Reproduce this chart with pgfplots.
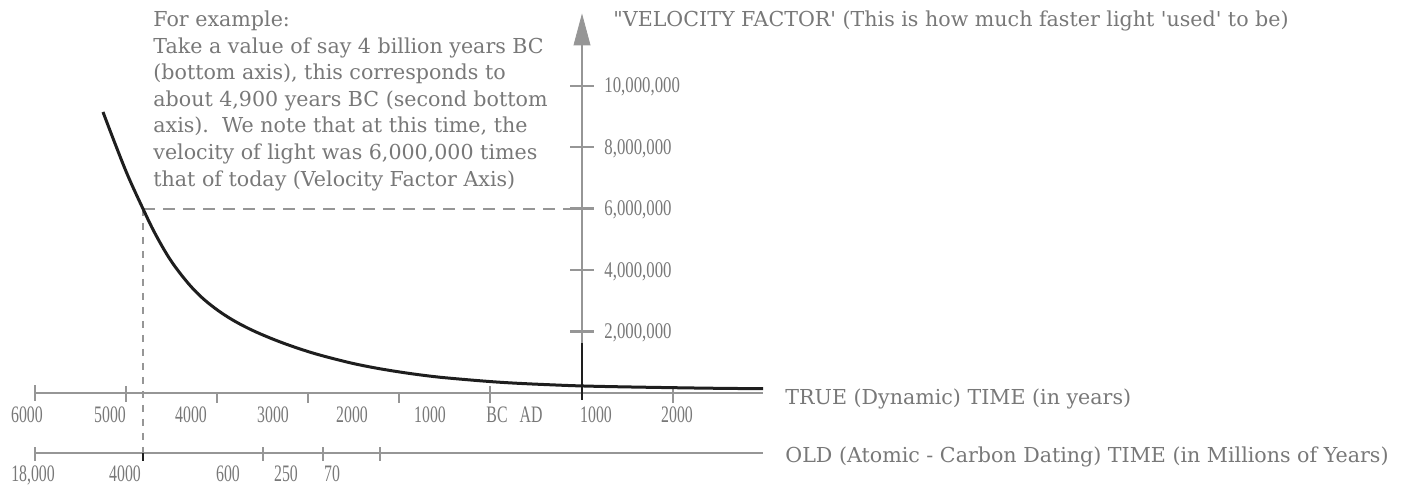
\documentclass[border=0pt]{standalone}
\usepackage{pgfplots}
\pgfplotsset{compat=1.18}
\usepackage{fontspec}
\setmainfont{DejaVu Serif}
\newfontfamily\tickfont[FakeStretch=0.75]{Liberation Serif}
\newfontfamily\tickfontb[FakeStretch=0.67]{Liberation Serif}
\definecolor{txt}{RGB}{120,120,120}
\definecolor{axg}{RGB}{150,150,150}
\definecolor{crv}{RGB}{30,30,30}
\newcommand{\bodyfont}{\fontsize{10.3}{12}\selectfont}
\newcommand{\tfont}{\tickfontb\fontsize{11.8}{13}\selectfont}
\newcommand{\yfont}{\tickfont\fontsize{11.2}{13}\selectfont}
\tikzset{
  tl/.style={anchor=base, inner sep=0pt, font=\tfont, text=txt},
  yl/.style={anchor=base west, inner sep=0pt, font=\yfont, text=txt},
  bl/.style={anchor=base west, inner sep=0pt, font=\bodyfont, text=txt},
}
\begin{document}
\begin{tikzpicture}
\begin{axis}[
  scale only axis, width=703pt, height=243.5pt,
  xmin=0, xmax=1406, ymin=-3.062, ymax=12.801,
  hide axis, clip=false,
]
% bounding box
\addplot[draw=none] coordinates {(0,-3.062) (1406,12.801)};

% TRUE time axis (y = 0)
\addplot[axg, line width=1.2pt] coordinates {(35,0) (763,0)};
% OLD time axis
\addplot[axg, line width=1.1pt] coordinates {(35,-1.954) (763,-1.954)};

% ticks on TRUE axis
\addplot[axg, line width=1pt] coordinates {(35,0.26) (35,-0.26)};
\addplot[axg, line width=1pt] coordinates {(126,0.23) (126,-0.29)};
\addplot[axg, line width=1pt] coordinates {(217,0.03) (217,-0.32)};
\addplot[axg, line width=1pt] coordinates {(308,0.03) (308,-0.32)};
\addplot[axg, line width=1pt] coordinates {(399,0.03) (399,-0.32)};
\addplot[axg, line width=1pt] coordinates {(490,0.23) (490,-0.32)};
\addplot[axg, line width=1.2pt] coordinates {(673,0.23) (673,-0.32)};

% ticks on OLD axis
\addplot[axg, line width=1pt] coordinates {(35,-1.76) (35,-2.21)};
\addplot[crv, line width=1.3pt] coordinates {(143,-1.76) (143,-2.21)};
\addplot[axg, line width=1pt] coordinates {(263,-1.76) (263,-2.21)};
\addplot[axg, line width=1pt] coordinates {(323,-1.76) (323,-2.21)};
\addplot[axg, line width=1pt] coordinates {(380,-1.76) (380,-2.21)};

% velocity factor axis
\addplot[axg, line width=1.4pt] coordinates {(582,-0.23) (582,11.4)};
\addplot[axg, fill=axg, draw=axg] coordinates {(574,11.34) (590,11.34) (582,12.31)} -- cycle;
\addplot[axg, line width=1.1pt] coordinates {(570,2) (594,2)};
\addplot[axg, line width=1.1pt] coordinates {(570,4) (594,4)};
\addplot[axg, line width=1.3pt] coordinates {(570,6) (594,6)};
\addplot[axg, line width=1.1pt] coordinates {(570,8) (594,8)};
\addplot[axg, line width=1.1pt] coordinates {(570,10) (594,10)};
\addplot[crv, line width=0.6pt] coordinates {(582,1.63) (582,-0.23)};

% dashed guide lines
\addplot[axg, line width=0.8pt, dash pattern=on 6pt off 4pt] coordinates {(143,6) (582,6)};
\addplot[axg, line width=0.6pt, dash pattern=on 3.5pt off 3.5pt] coordinates {(143,6) (143,-1.954)};

% the velocity factor curve
\addplot[crv, line width=1.5pt, smooth, tension=0.6] coordinates {
(103,9.153) (115,8.127) (128,7.068) (143,6.000) (155,5.199) (170,4.355)
(186,3.658) (200,3.166) (215,2.760) (230,2.430) (245,2.160) (260,1.930)
(280,1.665) (300,1.435) (320,1.235) (350,0.985) (375,0.818) (400,0.683)
(425,0.570) (450,0.482) (500,0.350) (550,0.268) (600,0.215) (700,0.160)
(763,0.140)};

% tick labels TRUE axis
\node[tl] at (axis cs:27,-0.945) {6000};
\node[tl] at (axis cs:110,-0.945) {5000};
\node[tl] at (axis cs:191,-0.945) {4000};
\node[tl] at (axis cs:273,-0.945) {3000};
\node[tl] at (axis cs:352,-0.945) {2000};
\node[tl] at (axis cs:430,-0.945) {1000};
\node[tl] at (axis cs:497,-0.945) {BC};
\node[tl] at (axis cs:531,-0.945) {AD};
\node[tl] at (axis cs:596,-0.945) {1000};
\node[tl] at (axis cs:677,-0.945) {2000};

% tick labels OLD axis
\node[tl] at (axis cs:33,-2.899) {18,000};
\node[tl] at (axis cs:125,-2.899) {4000};
\node[tl] at (axis cs:228,-2.899) {600};
\node[tl] at (axis cs:286,-2.899) {250};
\node[tl] at (axis cs:332,-2.899) {70};

% velocity factor labels
\node[yl] at (axis cs:604,1.772) {2,000,000};
\node[yl] at (axis cs:604,3.772) {4,000,000};
\node[yl] at (axis cs:604,5.772) {6,000,000};
\node[yl] at (axis cs:604,7.772) {8,000,000};
\node[yl] at (axis cs:604,9.772) {10,000,000};

% axis names
\node[bl] at (axis cs:613,11.95) {\textquotedbl VELOCITY FACTOR\textquotesingle\ (This is how much faster light \textquotesingle used\textquotesingle\ to be)};
\node[bl] at (axis cs:785,-0.39) {TRUE (Dynamic) TIME (in years)};
\node[bl] at (axis cs:785,-2.28) {OLD (Atomic - Carbon Dating) TIME (in Millions of Years)};

% explanation
\node[bl] at (axis cs:153,11.93) {For example:};
\node[bl] at (axis cs:153,11.07) {Take a value of say 4 billion years BC};
\node[bl] at (axis cs:153,10.20) {(bottom axis), this corresponds to};
\node[bl] at (axis cs:153,9.33) {about 4,900 years BC (second bottom};
\node[bl] at (axis cs:153,8.47) {axis).\ \ We note that at this time, the};
\node[bl] at (axis cs:153,7.60) {velocity of light was 6,000,000 times};
\node[bl] at (axis cs:153,6.73) {that of today (Velocity Factor Axis)};
\end{axis}
\end{tikzpicture}
\end{document}
